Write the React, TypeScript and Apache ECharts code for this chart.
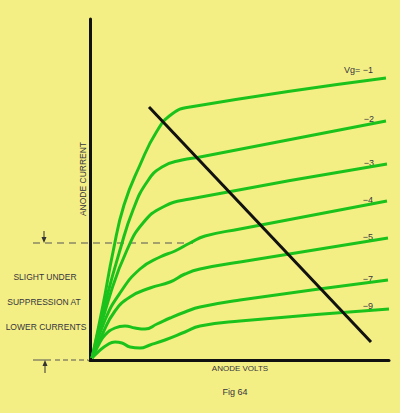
import React, { useEffect, useRef } from "react";
import * as echarts from "echarts";

// Anode characteristic curves (arbitrary units: x = anode volts, y = anode current)
const curveVg1: number[][] = [[2,2],[13,55],[23,108],[34,155],[50,195],[67,229],[82,246],[100,253],[296,282]];
const curveVg2: number[][] = [[2,2],[16,60],[30,110],[43,150],[57,178],[72,193],[92,200],[110,203],[296,239]];
const curveVg3: number[][] = [[2,2],[20,65],[37,110],[53,137],[73,153],[100,161],[297,196]];
const curveVg4: number[][] = [[2,2],[15,40],[30,67],[50,91],[70,103],[85,109],[100,117],[115,124],[150,131],[297,159]];
const curveVg5: number[][] = [[2,2],[12,25],[25,49],[40,63],[60,72],[80,78],[95,86],[110,91],[150,98],[298,122]];
const curveVg7: number[][] = [[2,2],[8,14],[15,25],[25,32],[35,34],[45,32],[55,31],[67,36],[80,42],[95,48],[110,53],[150,60],[298,80]];
const curveVg9: number[][] = [[2,2],[8,8],[17,15],[25,18],[32,17],[40,13],[50,12],[60,15],[75,20],[95,28],[110,34],[150,39],[299,51]];
const loadLine: number[][] = [[59,253],[281,18]];

const curveLabels = ["Vg= \u22121", "\u22122", "\u22123", "\u22124", "\u22125", "\u22127", "\u22129"];
const curves = [curveVg1, curveVg2, curveVg3, curveVg4, curveVg5, curveVg7, curveVg9];
const leftNote = ["SLIGHT UNDER", "SUPPRESSION AT", "LOWER CURRENTS"];

const BG = "#f4ef84";
const GREEN = "#1cc21c";
const INK = "#35353f";
const FONT = "Liberation Sans";

export default function App() {
  const ref = useRef<HTMLDivElement>(null);
  useEffect(() => {
    if (!ref.current) return;
    const chart = echarts.init(ref.current, undefined, { renderer: "svg" });
    const labelPos = [
      [373, 70], [374, 119], [374, 163], [373, 200], [373, 237], [373, 279], [373, 306],
    ];
    const notePos = [[45, 277], [44, 302], [46, 327]];
    const graphic: any[] = [];
    curveLabels.forEach((t, i) => {
      graphic.push({
        type: "text", x: labelPos[i][0], y: labelPos[i][1],
        style: { text: t, fill: INK, font: `9px "${FONT}"`, align: "right", verticalAlign: "middle" },
      });
    });
    leftNote.forEach((t, i) => {
      graphic.push({
        type: "text", x: notePos[i][0], y: notePos[i][1],
        style: { text: t, fill: INK, font: `8.5px "${FONT}"`, align: "center", verticalAlign: "middle" },
      });
    });
    graphic.push(
      { type: "text", x: 83, y: 179, rotation: Math.PI / 2,
        style: { text: "ANODE CURRENT", fill: INK, font: `8.5px "${FONT}"`, align: "center", verticalAlign: "middle" } },
      { type: "text", x: 240, y: 368,
        style: { text: "ANODE VOLTS", fill: INK, font: `8px "${FONT}"`, align: "center", verticalAlign: "middle" } },
      { type: "text", x: 235, y: 392,
        style: { text: "Fig 64", fill: INK, font: `9px "${FONT}"`, align: "center", verticalAlign: "middle" } },
      // dashed marker line
      { type: "line", shape: { x1: 33, y1: 243, x2: 193, y2: 243 },
        style: { stroke: "#555", lineWidth: 1, lineDash: [7, 5] } },
      { type: "line", shape: { x1: 44, y1: 231, x2: 44, y2: 238 }, style: { stroke: "#333", lineWidth: 1 } },
      { type: "polygon", shape: { points: [[41.5, 237], [46.5, 237], [44, 243]] }, style: { fill: "#333" } },
      // bottom dash-dot marker line
      { type: "line", shape: { x1: 33, y1: 360, x2: 51, y2: 360 }, style: { stroke: "#555", lineWidth: 1 } },
      { type: "line", shape: { x1: 55, y1: 360, x2: 88, y2: 360 },
        style: { stroke: "#555", lineWidth: 1, lineDash: [5, 3] } },
      { type: "line", shape: { x1: 45, y1: 365, x2: 45, y2: 373 }, style: { stroke: "#333", lineWidth: 1 } },
      { type: "polygon", shape: { points: [[42.5, 366], [47.5, 366], [45, 360]] }, style: { fill: "#333" } },
    );

    const series: any[] = curves.map((d) => ({
      type: "line", data: d, showSymbol: false, smooth: 0.5,
      lineStyle: { color: GREEN, width: 3 }, silent: true, z: 2,
    }));
    series.push({
      type: "line", data: loadLine, showSymbol: false,
      lineStyle: { color: "#111", width: 3 }, silent: true, z: 3,
    });

    chart.setOption({
      animation: false,
      backgroundColor: BG,
      grid: { left: 90, right: 11, top: 19, bottom: 53 },
      xAxis: {
        type: "value", min: 0, max: 299,
        axisLine: { show: true, lineStyle: { color: "#111", width: 3 } },
        axisTick: { show: false }, axisLabel: { show: false }, splitLine: { show: false },
      },
      yAxis: {
        type: "value", min: 0, max: 341,
        axisLine: { show: true, lineStyle: { color: "#111", width: 3 } },
        axisTick: { show: false }, axisLabel: { show: false }, splitLine: { show: false },
      },
      series,
      graphic,
    });
    return () => chart.dispose();
  }, []);
  return (
    <div
      ref={ref}
      style={{ position: "fixed", left: 0, top: 0, width: 400, height: 413, background: BG }}
    />
  );
}
